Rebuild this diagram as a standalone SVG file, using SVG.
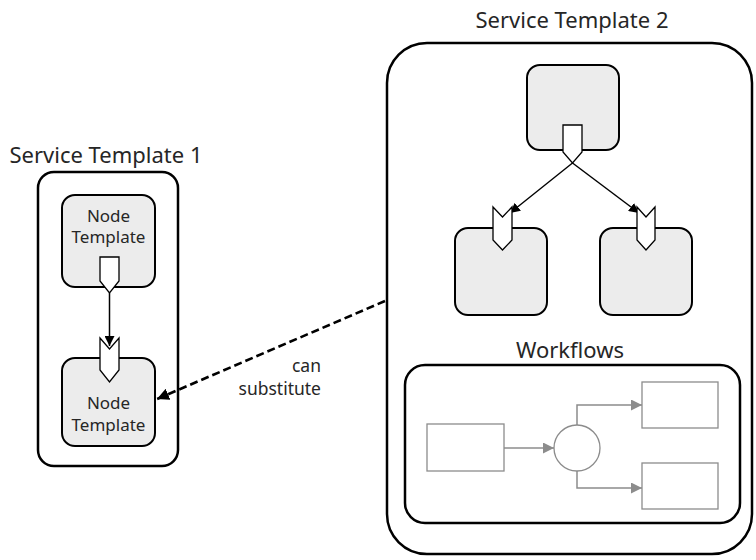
<svg xmlns="http://www.w3.org/2000/svg" width="756" height="560" viewBox="0 0 756 560">
<defs>
<style>
.title{font-family:"Noto Sans","Open Sans",sans-serif;font-size:22px;fill:#262626;text-anchor:middle}
.lbl{font-family:"Noto Sans","Open Sans",sans-serif;font-size:17px;fill:#262626;text-anchor:middle}
.note{font-family:"Noto Sans","Open Sans",sans-serif;font-size:17.5px;fill:#262626;text-anchor:end}
.container{fill:#ffffff;stroke:#000;stroke-width:2.5}
.node{fill:#ececec;stroke:#000;stroke-width:2}
.port{fill:#ffffff;stroke:#000;stroke-width:1.3}
.wf{fill:#ffffff;stroke:#8c8c8c;stroke-width:1.3}
.edge{fill:none;stroke:#000;stroke-width:1.5}
.wfedge{fill:none;stroke:#8c8c8c;stroke-width:1.5}
</style>
<marker id="ah" viewBox="0 0 10 10" refX="10" refY="5" markerWidth="10" markerHeight="10" markerUnits="userSpaceOnUse" orient="auto">
<path d="M0,0 L10,5 L0,10 Z" fill="#000"/>
</marker>
<marker id="ahd" viewBox="0 0 10 10" refX="10" refY="5" markerWidth="12" markerHeight="12" markerUnits="userSpaceOnUse" orient="auto">
<path d="M0,0 L10,5 L0,10 Z" fill="#000"/>
</marker>
<marker id="ahg" viewBox="0 0 10 10" refX="10" refY="5" markerWidth="11" markerHeight="11" markerUnits="userSpaceOnUse" orient="auto">
<path d="M0,0 L10,5 L0,10 Z" fill="#8c8c8c"/>
</marker>
</defs>
<rect width="756" height="560" fill="#ffffff"/>

<g id="st1">
<text class="title" x="106" y="163">Service Template 1</text>
<rect class="container" x="38" y="172" width="140" height="294" rx="16"/>
</g>

<g id="st2">
<text class="title" x="572" y="28">Service Template 2</text>
<rect class="container" x="387" y="43" width="365" height="511" rx="40"/>
</g>

<g id="nt1">
<rect class="node" x="62" y="195" width="93" height="92" rx="13"/>
<text class="lbl" x="108.5" y="222">Node</text>
<text class="lbl" x="108.5" y="243">Template</text>
</g>

<g id="nt2">
<rect class="node" x="62" y="358" width="93" height="88" rx="13"/>
<text class="lbl" x="108.5" y="409">Node</text>
<text class="lbl" x="108.5" y="431">Template</text>
</g>

<g id="n-top">
<rect class="node" x="527" y="65" width="92" height="85" rx="13"/>
</g>
<g id="n-left">
<rect class="node" x="455" y="228" width="92" height="87" rx="13"/>
</g>
<g id="n-right">
<rect class="node" x="600" y="228" width="92" height="87" rx="13"/>
</g>

<g id="workflows">
<text class="title" x="570" y="358">Workflows</text>
<rect class="container" x="405" y="365" width="335" height="158" rx="20"/>
<rect id="wf-a" class="wf" x="427" y="424" width="77" height="47"/>
<circle id="wf-gw" class="wf" cx="577" cy="448" r="23"/>
<rect id="wf-b" class="wf" x="642" y="382" width="76" height="46"/>
<rect id="wf-c" class="wf" x="642" y="463" width="76" height="46"/>
</g>

<g id="connectors">
<line class="edge" x1="109.5" y1="293" x2="109.5" y2="346" marker-end="url(#ah)"/>
<line class="edge" x1="572.5" y1="163" x2="510" y2="213" marker-end="url(#ah)"/>
<line class="edge" x1="572.5" y1="163" x2="639" y2="213" marker-end="url(#ah)"/>
<line x1="385" y1="301" x2="157" y2="399" stroke="#000" stroke-width="2.6" stroke-dasharray="8,4" marker-end="url(#ahd)"/>
<line class="wfedge" x1="504" y1="448" x2="554" y2="448" marker-end="url(#ahg)"/>
<polyline class="wfedge" points="577,425 577,405 642,405" marker-end="url(#ahg)"/>
<polyline class="wfedge" points="577,471 577,488 642,488" marker-end="url(#ahg)"/>
</g>

<g id="ports">
<path class="port" d="M100,257 H119 V281 L109.5,293 L100,281 Z"/>
<path class="port" d="M100,338 L109.5,349 L119,338 V370 L109.5,382 L100,370 Z"/>
<path class="port" d="M563,125 H582 V152 L572.5,163 L563,152 Z"/>
<path class="port" d="M493,207 L502.5,217 L512,207 V240 L502.5,250 L493,240 Z"/>
<path class="port" d="M637,207 L646,217 L655,207 V240 L646,250 L637,240 Z"/>
</g>

<text class="note" x="321" y="372">can</text>
<text class="note" x="321" y="395">substitute</text>
</svg>
